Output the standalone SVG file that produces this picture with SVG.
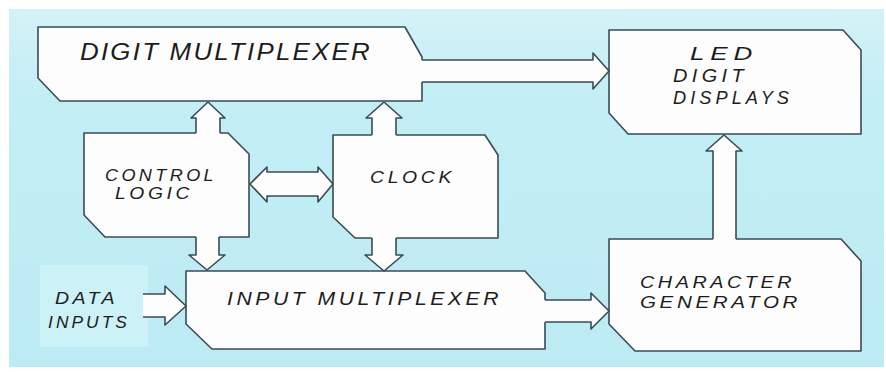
<svg xmlns="http://www.w3.org/2000/svg" width="886" height="372" viewBox="0 0 886 372">
<defs>
<linearGradient id="bg" x1="0" y1="0" x2="0" y2="1">
<stop offset="0" stop-color="#d3f2f7"/>
<stop offset="0.25" stop-color="#c3eef5"/>
<stop offset="1" stop-color="#bdebf3"/>
</linearGradient>
<style>
.box{fill:#fdfdfd;stroke:#3a4b54;stroke-width:1.6;stroke-linejoin:round}
.af{fill:#fdfdfd;stroke:none}
.ao{fill:none;stroke:#3a4b54;stroke-width:1.6;stroke-linejoin:round}
.t{font-family:"Liberation Sans",Arial,sans-serif;font-style:italic;fill:#1c1c1c}
</style>
</defs>
<rect x="0" y="0" width="886" height="372" fill="#ffffff"/>
<rect x="9" y="9" width="875" height="358" fill="url(#bg)"/>
<rect x="40" y="265" width="108" height="82" fill="#ccf1f6"/>

<g id="digit-multiplexer">
<polygon class="box" points="38,27 405,27 422,57 422,101 60,101 38,78"/>
<text class="t" x="80" y="60" font-size="23" letter-spacing="2" textLength="292" lengthAdjust="spacingAndGlyphs">DIGIT MULTIPLEXER</text>
</g>
<g id="led-digit-displays">
<polygon class="box" points="609,30 843,30 861,50 861,134 628,134 609,113"/>
<text class="t" x="690" y="60" font-size="18" letter-spacing="4" textLength="68" lengthAdjust="spacingAndGlyphs">LED</text>
<text class="t" x="673" y="82" font-size="18" letter-spacing="4" textLength="75" lengthAdjust="spacingAndGlyphs">DIGIT</text>
<text class="t" x="673" y="104" font-size="18" letter-spacing="4" textLength="120" lengthAdjust="spacingAndGlyphs">DISPLAYS</text>
</g>
<g id="control-logic">
<polygon class="box" points="84,133 228,133 249,154 249,237 105,237 84,215"/>
<text class="t" x="105" y="181" font-size="16" letter-spacing="3" textLength="112" lengthAdjust="spacingAndGlyphs">CONTROL</text>
<text class="t" x="115" y="199" font-size="16" letter-spacing="3" textLength="78" lengthAdjust="spacingAndGlyphs">LOGIC</text>
</g>
<g id="clock">
<polygon class="box" points="333,135 485,135 498,155 498,238 355,238 333,217"/>
<text class="t" x="370" y="183" font-size="16" letter-spacing="3" textLength="85" lengthAdjust="spacingAndGlyphs">CLOCK</text>
</g>
<g id="input-multiplexer">
<polygon class="box" points="186,271 525,271 545,293 545,349 212,349 186,324"/>
<text class="t" x="227" y="305" font-size="18" letter-spacing="3" textLength="275" lengthAdjust="spacingAndGlyphs">INPUT  MULTIPLEXER</text>
</g>
<g id="character-generator">
<polygon class="box" points="609,239 841,239 861,261 861,351 635,351 609,324"/>
<text class="t" x="640" y="288" font-size="17" letter-spacing="3" textLength="155" lengthAdjust="spacingAndGlyphs">CHARACTER</text>
<text class="t" x="640" y="308" font-size="17" letter-spacing="3" textLength="161" lengthAdjust="spacingAndGlyphs">GENERATOR</text>
</g>
<g id="data-inputs">
<text class="t" x="55" y="304" font-size="17" letter-spacing="3" textLength="63" lengthAdjust="spacingAndGlyphs">DATA</text>
<text class="t" x="48" y="328" font-size="17" letter-spacing="3" textLength="82" lengthAdjust="spacingAndGlyphs">INPUTS</text>
</g>

<g id="connectors">
<polygon class="af" points="418,60 593,60 593,53 609,71 593,89 593,82 418,82"/>
<path class="ao" d="M422,60 H593 V53 L609,71 L593,89 V82 H422"/>
<polygon class="af" points="196,137 196,118 191,118 208,102 225,118 220,118 220,137"/>
<path class="ao" d="M196,133 V118 H191 L208,102 L225,118 H220 V133"/>
<polygon class="af" points="372,139 372,118 366,118 384,102 402,118 396,118 396,139"/>
<path class="ao" d="M372,135 V118 H366 L384,102 L402,118 H396 V135"/>
<polygon class="af" points="250,184 267,167 267,172 318,172 318,167 333,184 318,202 318,196 267,196 267,202"/>
<path class="ao" d="M250,184 L267,167 V172 H318 V167 L333,184 L318,202 V196 H267 V202 Z"/>
<polygon class="af" points="196,233 196,255 189,255 207,270 225,255 219,255 219,233"/>
<path class="ao" d="M196,237 V255 H189 L207,270 L225,255 H219 V237"/>
<polygon class="af" points="372,234 372,255 365,255 384,271 403,255 396,255 396,234"/>
<path class="ao" d="M372,238 V255 H365 L384,271 L403,255 H396 V238"/>
<polygon class="af" points="143,294 165,294 165,286 186,306 165,325 165,317 143,317"/>
<path class="ao" d="M143,294 H165 V286 L186,306 L165,325 V317 H143"/>
<polygon class="af" points="541,300 591,300 591,293 609,311 591,329 591,322 541,322"/>
<path class="ao" d="M545,300 H591 V293 L609,311 L591,329 V322 H545"/>
<polygon class="af" points="713,243 713,151 706,151 724,135 742,151 736,151 736,243"/>
<path class="ao" d="M713,239 V151 H706 L724,135 L742,151 H736 V239"/>
</g>
</svg>
